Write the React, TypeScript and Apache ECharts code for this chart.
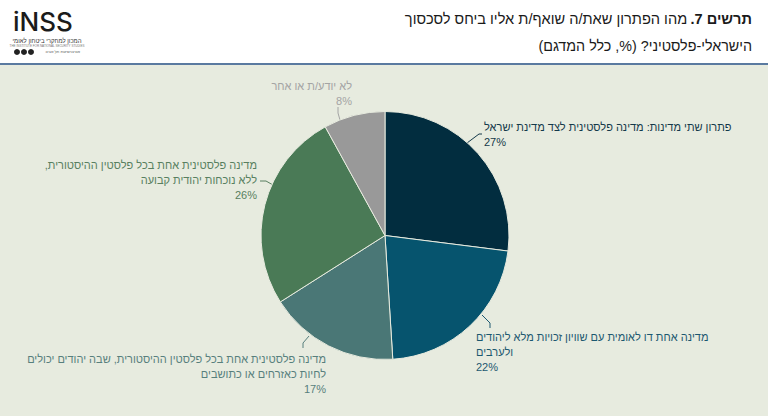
import { useEffect, useRef } from 'react';
import * as echarts from 'echarts';

// right-to-left marks so Hebrew punctuation lands on the correct side inside SVG text
const RLM = '\u200F';
const rtl = (s: string) => s.split('\n').map((l) => RLM + l + RLM).join('\n');

const categories = [
  'פתרון שתי מדינות: מדינה פלסטינית לצד מדינת ישראל',
  'מדינה אחת דו לאומית עם שוויון זכויות מלא ליהודים\nולערבים',
  'מדינה פלסטינית אחת בכל פלסטין ההיסטורית, שבה יהודים יכולים\nלחיות כאזרחים או כתושבים',
  'מדינה פלסטינית אחת בכל פלסטין ההיסטורית,\nללא נוכחות יהודית קבועה',
  'לא יודע/ת או אחר',
];
const values = [27, 22, 17, 26, 8];

const titleBold = 'תרשים 7.';
const titleLine1 = 'מהו הפתרון שאת/ה שואף/ת אליו ביחס לסכסוך';
const titleLine2 = 'הישראלי-פלסטיני? (%, כלל המדגם)';

const sliceColors = ['#022d3f', '#06546e', '#4a7776', '#4a7a56', '#999999'];
const labelColors = ['#14394a', '#1c5870', '#577f7d', '#587f60', '#a4a4a4'];

// label placement: [x, y, align] and the leader line that runs to it
const labelAnchors: [number, number, string][] = [
  [484, 134, 'left'],
  [476, 352, 'left'],
  [326, 374, 'right'],
  [257, 180, 'right'],
  [352, 93, 'right'],
];
const leaderLines: number[][][] = [
  [[467, 143], [479, 134], [482, 134]],
  [[482, 315], [490, 323], [490, 328]],
  [[309, 336], [303, 343], [303, 348]],
  [[273, 185], [266, 181], [260, 181]],
  [[340, 120], [338, 113], [338, 107]],
];

const FONT = '"Liberation Sans", "DejaVu Sans", sans-serif';

export default function App() {
  const ref = useRef<HTMLDivElement>(null);

  useEffect(() => {
    document.body.style.margin = '0';
    if (!ref.current) return;
    const chart = echarts.init(ref.current, undefined, { renderer: 'svg' });

    const option: echarts.EChartsOption = {
      animation: false,
      backgroundColor: '#ffffff',
      textStyle: { fontFamily: FONT },
      graphic: [
        { type: 'rect', shape: { x: 0, y: 65, width: 768, height: 351 }, style: { fill: '#e7ebdf' }, z: -10 },
        { type: 'rect', shape: { x: 0, y: 63, width: 768, height: 2 }, style: { fill: '#5a7aa0' }, z: -10 },
        // logo
        {
          type: 'text',
          x: 13,
          y: 21,
          style: { text: 'iNSS', fontFamily: 'Inter', fontSize: 26, fontWeight: 500, fill: '#1b1b1b', verticalAlign: 'middle' },
        },
        {
          type: 'text',
          x: 47,
          y: 37.5,
          style: { text: rtl('המכון למחקרי ביטחון לאומי'), fontFamily: FONT, fontSize: 6, fill: '#333', align: 'center' },
        },
        {
          type: 'text',
          x: 47,
          y: 44.5,
          style: { text: 'THE INSTITUTE FOR NATIONAL SECURITY STUDIES', fontFamily: FONT, fontSize: 3, fill: '#777', align: 'center' },
        },
        { type: 'circle', shape: { cx: 17, cy: 52, r: 3 }, style: { fill: '#222' } },
        { type: 'circle', shape: { cx: 24, cy: 52, r: 3 }, style: { fill: '#222' } },
        { type: 'circle', shape: { cx: 31, cy: 52, r: 3 }, style: { fill: '#222' } },
        {
          type: 'text',
          x: 80,
          y: 49.5,
          style: { text: rtl('אוניברסיטת תל אביב'), fontFamily: FONT, fontSize: 4, fill: '#555', align: 'right' },
        },
        // title
        {
          type: 'text',
          x: 752,
          y: 19,
          style: {
            text: `{n|${rtl(titleLine1)}} {b|${rtl(titleBold)}}`,
            align: 'right',
            verticalAlign: 'middle',
            rich: {
              n: { fontFamily: FONT, fontSize: 14.6, fill: '#1a1a1a' },
              b: { fontFamily: FONT, fontSize: 14.6, fontWeight: 'bold', fill: '#1a1a1a' },
            },
          },
        },
        {
          type: 'text',
          x: 752,
          y: 46,
          style: {
            text: rtl(titleLine2),
            align: 'right',
            verticalAlign: 'middle',
            fontFamily: FONT,
            fontSize: 14.3,
            fill: '#1a1a1a',
          },
        },
      ],
      series: [
        {
          type: 'pie',
          center: [385, 235.5],
          radius: 124,
          startAngle: 90,
          clockwise: true,
          avoidLabelOverlap: false,
          itemStyle: { borderColor: '#e7ebdf', borderWidth: 1 },
          label: {
            show: true,
            fontFamily: FONT,
            fontSize: 11,
            lineHeight: 15,
            width: 330,
            overflow: 'none',
            formatter: (p: any) => `${rtl(p.name)}\n${p.value}%`,
          },
          labelLine: { show: true, length: 8, length2: 6, lineStyle: { width: 1 } },
          labelLayout: (p: any) => {
            const a = labelAnchors[p.dataIndex];
            return {
              x: a[0],
              y: a[1],
              align: a[2] as any,
              verticalAlign: 'middle',
              labelLinePoints: leaderLines[p.dataIndex] as any,
            };
          },
          data: categories.map((name, i) => ({
            name,
            value: values[i],
            itemStyle: { color: sliceColors[i] },
            label: { color: labelColors[i] },
            labelLine: { lineStyle: { color: labelColors[i] } },
          })),
        },
      ],
    };

    chart.setOption(option);
    return () => chart.dispose();
  }, []);

  return (
    <div
      ref={ref}
      style={{ position: 'absolute', left: 0, top: 0, width: 768, height: 416 }}
    />
  );
}
